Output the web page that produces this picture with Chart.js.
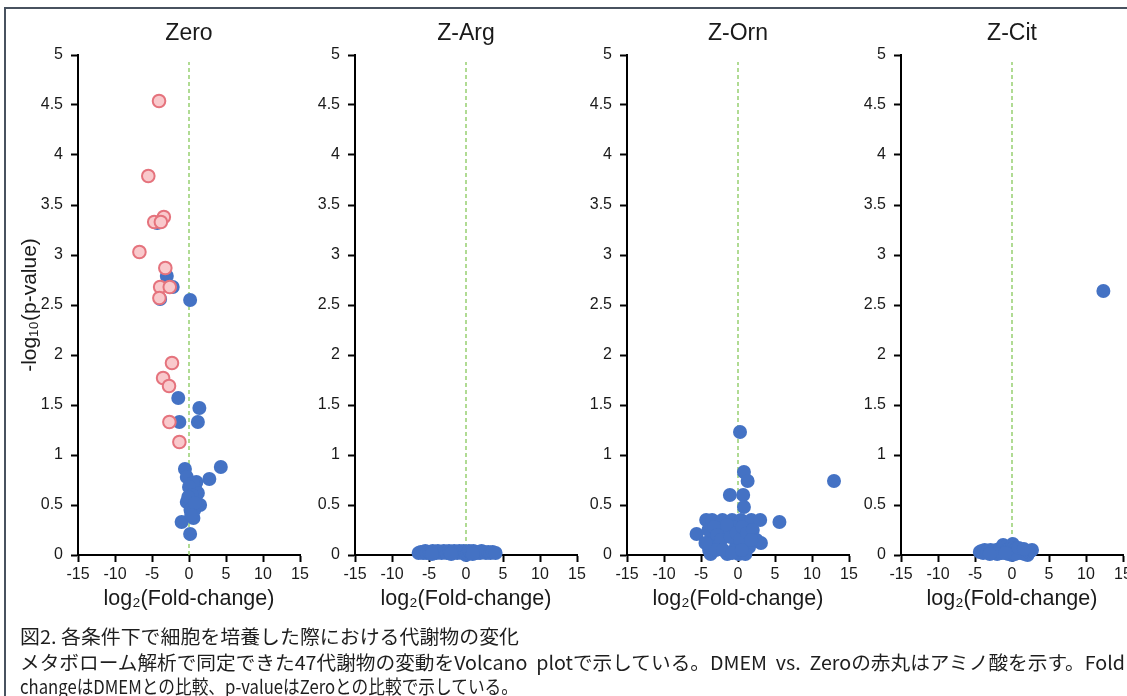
<!DOCTYPE html>
<html>
<head>
<meta charset="utf-8">
<script src="https://cdn.jsdelivr.net/npm/chart.js@4.4.1/dist/chart.umd.min.js"></script>
<style>
body { margin: 0; width: 1127px; height: 696px; overflow: hidden; background: #fff; position: relative; }
#frame { position: absolute; left: 4px; top: 7px; width: 1200px; height: 800px; border: 2px solid #48525f; }
canvas { position: absolute; top: 0; }
.cap { position: absolute; left: 20px; font-family: "Noto Sans CJK JP", sans-serif; font-size: 19px; line-height: 1; color: #1e1e1e; white-space: pre; transform-origin: 0 0; }
</style>
</head>
<body>
<div id="frame"></div>

<script>
const FONT = '"Liberation Sans", Arial, sans-serif';

// panel titles and axis ticks
const panelTitles = ["Zero", "Z-Arg", "Z-Orn", "Z-Cit"];
const xTicks = [-15, -10, -5, 0, 5, 10, 15];
const yTicks = [0, 0.5, 1, 1.5, 2, 2.5, 3, 3.5, 4, 4.5, 5];

// DMEM vs Zero : amino acids (red circles)
const zeroAmino = [
  [-4.05, 4.54], [-5.5, 3.79], [-3.4, 3.38], [-4.7, 3.33], [-3.8, 3.33],
  [-6.7, 3.03], [-3.2, 2.87], [-3.9, 2.68], [-2.6, 2.68], [-4.0, 2.57],
  [-2.3, 1.92], [-3.5, 1.77], [-2.7, 1.69], [-2.65, 1.33], [-1.3, 1.13]
];
// DMEM vs Zero : other metabolites
const zeroOther = [
  [-3.0, 2.79], [-2.2, 2.68], [-3.9, 2.56], [-4.3, 3.32], [0.15, 2.55],
  [-1.45, 1.57], [1.4, 1.47], [1.2, 1.33], [-1.3, 1.33], [-0.55, 0.86],
  [4.3, 0.88], [2.75, 0.76], [-0.3, 0.78], [1.0, 0.73], [0.8, 0.68],
  [0.6, 0.63], [-0.3, 0.53], [0.35, 0.53], [1.5, 0.50], [0.6, 0.37],
  [-1.0, 0.33], [0.15, 0.21], [0.5, 0.72], [0.9, 0.58], [0.2, 0.45],
  [0.7, 0.45], [1.2, 0.62], [0.0, 0.68], [0.4, 0.60], [-0.1, 0.58],
  [0.8, 0.52], [0.3, 0.40]
];

// Z-Arg
const argPoints = [
  [-6.4, 0.02], [-6.1, 0.03], [-5.8, 0.02], [-5.5, 0.04], [-5.3, 0.02],
  [-5.0, 0.03], [-4.8, 0.02], [-4.5, 0.04], [-4.3, 0.03], [-4.0, 0.02],
  [-3.8, 0.04], [-3.5, 0.03], [-3.3, 0.02], [-3.0, 0.04], [-2.8, 0.03],
  [-2.6, 0.02], [-2.3, 0.04], [-2.1, 0.03], [-1.9, 0.02], [-1.6, 0.04],
  [-1.4, 0.03], [-1.2, 0.02], [-0.9, 0.04], [-0.7, 0.03], [-0.5, 0.02],
  [-0.3, 0.04], [-0.1, 0.03], [0.0, 0.00], [0.2, 0.02], [0.4, 0.04],
  [0.6, 0.03], [0.8, 0.02], [1.0, 0.04], [1.2, 0.03], [1.4, 0.02],
  [1.7, 0.03], [1.9, 0.02], [2.1, 0.04], [2.4, 0.03], [2.7, 0.02],
  [3.0, 0.03], [3.3, 0.02], [3.6, 0.03], [4.0, 0.02], [-2.0, 0.01],
  [-4.6, 0.01], [0.9, 0.01]
];

// Z-Orn
const ornPoints = [
  [0.27, 1.23], [0.8, 0.83], [1.3, 0.74], [12.97, 0.74], [-1.1, 0.60],
  [0.7, 0.60], [0.8, 0.48], [5.6, 0.33],
  [-4.3, 0.35], [-3.5, 0.35], [-2.1, 0.35], [-0.8, 0.35], [0.4, 0.35], [1.8, 0.35], [3.0, 0.35],
  [-5.6, 0.21], [-3.6, 0.17], [3.1, 0.12], [-1.9, 0.23], [0.8, 0.20],
  [-0.5, 0.28], [-3.9, 0.05], [-2.6, 0.10], [-0.3, 0.08], [1.5, 0.08],
  [-3.7, 0.01], [-1.45, 0.01], [0.1, 0.01], [1.0, 0.01],
  [-4.0, 0.25], [-3.2, 0.28], [-2.8, 0.20], [-2.3, 0.15], [-1.5, 0.30],
  [-1.0, 0.18], [-0.2, 0.22], [0.3, 0.15], [0.6, 0.28], [1.2, 0.22],
  [2.0, 0.25], [2.5, 0.15], [-3.0, 0.05], [-2.0, 0.05], [-0.8, 0.02],
  [0.5, 0.05], [1.8, 0.15], [-4.4, 0.12]
];

// Z-Cit
const citPoints = [
  [12.35, 2.64],
  [-4.35, 0.03], [-4.1, 0.04], [-3.9, 0.02], [-3.7, 0.05], [-3.5, 0.03],
  [-3.3, 0.04], [-3.1, 0.02], [-2.9, 0.05], [-2.7, 0.03], [-2.5, 0.04],
  [-2.3, 0.02], [-2.1, 0.05], [-1.9, 0.03], [-1.7, 0.06], [-1.5, 0.04],
  [-1.2, 0.10], [-1.0, 0.08], [-0.8, 0.05], [-0.6, 0.03], [-0.4, 0.06],
  [-0.2, 0.04], [0.0, 0.00], [0.1, 0.11], [0.2, 0.07], [0.3, 0.04],
  [0.5, 0.02], [0.6, 0.06], [0.8, 0.03], [1.0, 0.05], [1.1, 0.02],
  [1.3, 0.04], [1.5, 0.03], [1.7, 0.01], [1.9, 0.04], [2.1, 0.00],
  [2.3, 0.03], [2.5, 0.04], [2.7, 0.05], [-0.5, 0.01], [0.4, 0.01],
  [-1.4, 0.02], [-2.0, 0.01], [-3.0, 0.01], [0.9, 0.07], [-0.9, 0.02],
  [1.6, 0.06]
];

// vertical reference at log2FC = 0
const refLine = [[0, 0], [0, 4.93]];

const captionLines = [
  "図2. 各条件下で細胞を培養した際における代謝物の変化",
  "メタボローム解析で同定できた47代謝物の変動をVolcano  plotで示している。DMEM  vs.  Zeroの赤丸はアミノ酸を示す。Fold",
  "changeはDMEMとの比較、p-valueはZeroとの比較で示している。"
];

const BLUE = "#4472C4";
const toXY = arr => arr.map(p => ({ x: p[0], y: p[1] }));

function blueSet(points) {
  return {
    data: toXY(points),
    backgroundColor: BLUE,
    borderColor: BLUE,
    borderWidth: 0,
    pointRadius: 7,
    clip: false
  };
}

function refSet() {
  return {
    data: toXY(refLine),
    showLine: true,
    borderColor: "#96d070",
    borderWidth: 1.5,
    borderDash: [4, 3],
    pointRadius: 0,
    clip: false
  };
}

function makePanel(idx, left, datasets) {
  const canvas = document.createElement("canvas");
  canvas.width = 310;
  canvas.height = 625;
  canvas.style.left = left + "px";
  document.body.appendChild(canvas);

  new Chart(canvas, {
    type: "scatter",
    data: { datasets: datasets.concat([refSet()]) },
    options: {
      responsive: false,
      animation: false,
      layout: { padding: { left: 0, right: 18, top: 0, bottom: 0 } },
      plugins: {
        legend: { display: false },
        tooltip: { enabled: false },
        title: {
          display: true,
          text: panelTitles[idx],
          fullSize: false,
          color: "#1a1a1a",
          font: { family: FONT, size: 23, weight: "normal" },
          padding: { top: 20, bottom: 7.4 }
        }
      },
      scales: {
        x: {
          type: "linear",
          min: -15, max: 15,
          afterBuildTicks: s => { s.ticks = xTicks.map(v => ({ value: v })); },
          afterFit: s => { s.height = 70; },
          grid: { drawOnChartArea: false, tickLength: 7, tickWidth: 2, tickColor: "#000" },
          border: { color: "#000", width: 2 },
          ticks: { color: "#1a1a1a", font: { family: FONT, size: 16 }, padding: 3, maxRotation: 0, autoSkip: false, callback: v => String(v) },
          title: {
            display: true,
            text: "log₂(Fold-change)",
            color: "#1a1a1a",
            font: { family: FONT, size: 21.5 },
            padding: { top: 0, bottom: 13 }
          }
        },
        y: {
          type: "linear",
          min: 0, max: 5,
          afterBuildTicks: s => { s.ticks = yTicks.map(v => ({ value: v })); },
          afterFit: s => { s.width = 70; },
          grid: { drawOnChartArea: false, tickLength: 7, tickWidth: 2, tickColor: "#000" },
          border: { color: "#000", width: 2 },
          ticks: { color: "#1a1a1a", font: { family: FONT, size: 16 }, padding: 8, autoSkip: false, callback: v => String(v) },
          title: {
            display: idx === 0,
            text: "-log₁₀(p-value)",
            color: "#1a1a1a",
            font: { family: FONT, size: 21 },
            padding: { top: 9.4, bottom: 0 }
          }
        }
      }
    }
  });
}

const panelLeft = [8, 285, 557, 831];

makePanel(0, panelLeft[0], [
  {
    data: toXY(zeroAmino),
    backgroundColor: "#f9c9cc",
    borderColor: "#e5737d",
    borderWidth: 2,
    pointRadius: 6.3,
    clip: false
  },
  blueSet(zeroOther)
]);
makePanel(1, panelLeft[1], [blueSet(argPoints)]);
makePanel(2, panelLeft[2], [blueSet(ornPoints)]);
makePanel(3, panelLeft[3], [blueSet(citPoints)]);

// caption under the charts, squeezed to the original line widths
const capTop = [626, 652, 676];
const capWidth = [499, 1105, 498];
captionLines.forEach((txt, i) => {
  const el = document.createElement("div");
  el.className = "cap";
  el.textContent = txt;
  el.style.top = capTop[i] + "px";
  document.body.appendChild(el);
  const w = el.getBoundingClientRect().width;
  el.style.transform = "scaleX(" + (capWidth[i] / w) + ")";
});
</script>
</body>
</html>
